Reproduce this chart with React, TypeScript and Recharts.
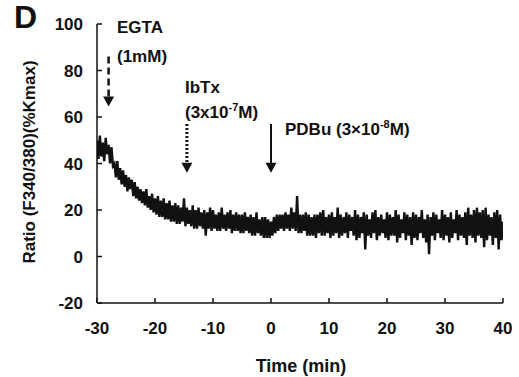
import { LineChart, Line, XAxis, YAxis, ReferenceLine } from "recharts";

// sampling: one reading every 15 s from -30 min to +40 min
const startMin = -30;
const stepMin = 0.25;

// Ratio (F340/380)(%Kmax), 4 readings per minute
const ratio: number[] = [
  50, 42, 52, 43, 49, 41, 51, 44, 48, 40, 47, 39, 40, 34, 41, 33,
  38, 31, 37, 30, 35, 28, 34, 29, 33, 26, 32, 25, 30, 24, 29, 23,
  28, 22, 29, 21, 26, 20, 27, 19, 25, 18, 26, 17, 24, 17, 25, 16,
  23, 16, 24, 15, 22, 15, 23, 14, 22, 14, 21, 15, 25, 13, 21, 14,
  20, 13, 22, 12, 20, 12, 21, 13, 19, 12, 20, 9, 19, 12, 21, 11,
  20, 12, 18, 11, 19, 11, 21, 12, 18, 11, 19, 12, 20, 10, 18, 11,
  19, 11, 18, 10, 18, 10, 19, 11, 17, 10, 18, 9, 17, 9, 19, 10,
  16, 9, 17, 8, 17, 8, 16, 8, 15, 9, 17, 10, 18, 11, 18, 12,
  18, 11, 19, 12, 18, 11, 21, 12, 19, 11, 26, 10, 18, 10, 18, 11,
  19, 9, 18, 9, 17, 9, 18, 8, 18, 10, 19, 9, 20, 9, 17, 10,
  18, 8, 19, 9, 17, 10, 21, 8, 18, 9, 17, 10, 19, 8, 18, 11,
  17, 9, 20, 7, 18, 8, 17, 10, 19, 3, 18, 9, 16, 8, 19, 10,
  20, 7, 17, 9, 18, 10, 16, 8, 19, 7, 18, 9, 17, 9, 20, 6,
  18, 8, 16, 10, 19, 7, 18, 9, 17, 5, 19, 8, 18, 7, 17, 10,
  20, 8, 16, 6, 18, 1, 17, 9, 19, 7, 18, 10, 16, 8, 20, 7,
  18, 9, 17, 6, 19, 8, 16, 10, 20, 7, 18, 9, 17, 8, 19, 5,
  21, 9, 18, 8, 20, 6, 21, 9, 19, 8, 20, 4, 21, 7, 18, 9,
  17, 5, 19, 8, 20, 3, 18, 7, 15,
];

const xTicks = [-30, -20, -10, 0, 10, 20, 30, 40];
const yTicks = [-20, 0, 20, 40, 60, 80, 100];

// drug additions: time (min), arrow top and tip (ratio units)
const egtaArrow = { t: -28, from: 86, to: 64.5 };
const ibtxArrow = { t: -14.5, from: 57, to: 36 };
const pdbuArrow = { t: 0, from: 57, to: 36 };

const data = ratio.map((value, i) => ({ t: startMin + i * stepMin, value }));

const font = '"Liberation Sans", Arial, sans-serif';
const ink = "#111";

function arrowShape(dash: string | undefined, width: number) {
  return (props: { x1?: number; y1?: number; x2?: number; y2?: number }) => {
    const { x1 = 0, y1 = 0, y2 = 0 } = props;
    const head = 10;
    return (
      <g>
        <line
          x1={x1}
          y1={y1}
          x2={x1}
          y2={y2 - head + 1}
          stroke={ink}
          strokeWidth={width}
          strokeDasharray={dash}
        />
        <polygon
          points={`${x1 - 5.5},${y2 - head} ${x1 + 5.5},${y2 - head} ${x1},${y2}`}
          fill={ink}
        />
      </g>
    );
  };
}

export default function App() {
  const tickStyle = { fill: ink, fontSize: 17, fontWeight: 700, fontFamily: font };
  return (
    <div style={{ position: "absolute", left: 0, top: 0, width: 519, height: 377, background: "#fff" }}>
      <LineChart
        width={519}
        height={377}
        data={data}
        margin={{ top: 24, right: 16, bottom: 0, left: 0 }}
      >
        <XAxis
          type="number"
          dataKey="t"
          domain={[-30, 40]}
          ticks={xTicks}
          allowDataOverflow
          height={74}
          tickSize={-5}
          tickMargin={24}
          axisLine={{ stroke: ink, strokeWidth: 1.5 }}
          tickLine={{ stroke: ink, strokeWidth: 1.5 }}
          tick={tickStyle}
        />
        <YAxis
          type="number"
          domain={[-20, 100]}
          ticks={yTicks}
          allowDataOverflow
          width={97}
          tickSize={-5}
          tickMargin={19}
          axisLine={{ stroke: ink, strokeWidth: 1.5 }}
          tickLine={{ stroke: ink, strokeWidth: 1.5 }}
          tick={tickStyle}
        />
        <Line
          type="linear"
          dataKey="value"
          stroke={ink}
          strokeWidth={2.4}
          strokeLinejoin="miter"
          dot={false}
          isAnimationActive={false}
        />
        <ReferenceLine
          segment={[{ x: egtaArrow.t, y: egtaArrow.from }, { x: egtaArrow.t, y: egtaArrow.to }]}
          shape={arrowShape("7 4", 2.5)}
          ifOverflow="visible"
        />
        <ReferenceLine
          segment={[{ x: ibtxArrow.t, y: ibtxArrow.from }, { x: ibtxArrow.t, y: ibtxArrow.to }]}
          shape={arrowShape("2 2", 3)}
          ifOverflow="visible"
        />
        <ReferenceLine
          segment={[{ x: pdbuArrow.t, y: pdbuArrow.from }, { x: pdbuArrow.t, y: pdbuArrow.to }]}
          shape={arrowShape(undefined, 2)}
          ifOverflow="visible"
        />
      </LineChart>
      <svg
        width={519}
        height={377}
        style={{ position: "absolute", left: 0, top: 0, pointerEvents: "none" }}
        fontFamily={font}
        fontWeight={700}
        fill={ink}
      >
        <text x={14} y={28} fontSize={32}>D</text>
        <text x={117} y={33} fontSize={17}>EGTA</text>
        <text x={117} y={62} fontSize={17}>(1mM)</text>
        <text x={185} y={93} fontSize={17}>IbTx</text>
        <text x={185} y={118} fontSize={17}>
          (3x10<tspan fontSize={11} dy={-7}>-7</tspan>
          <tspan dy={7}>M)</tspan>
        </text>
        <text x={285} y={135} fontSize={17}>
          PDBu (3×10<tspan fontSize={11} dy={-7}>-8</tspan>
          <tspan dy={7}>M)</tspan>
        </text>
        <text x={301} y={372} fontSize={18} textAnchor="middle">Time (min)</text>
        <text x={35} y={162} fontSize={17} textAnchor="middle" transform="rotate(-90 35 162)">
          Ratio (F340/380)(%Kmax)
        </text>
      </svg>
    </div>
  );
}
